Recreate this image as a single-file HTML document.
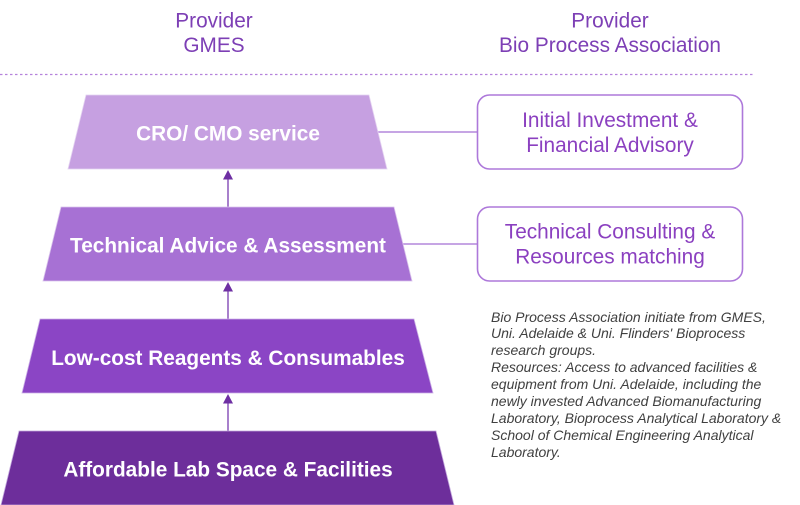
<!DOCTYPE html>
<html>
<head>
<meta charset="utf-8">
<style>
html,body{margin:0;padding:0;background:#fff;}
body{width:800px;height:505px;overflow:hidden;position:relative;}
svg{position:absolute;left:0;top:0;}
.note{position:absolute;left:491px;top:308.5px;width:310px;font-family:"Liberation Sans",Arial,sans-serif;font-style:italic;font-size:14px;line-height:16.9px;color:#404040;white-space:nowrap;}
</style>
</head>
<body>
<svg width="800" height="505" viewBox="0 0 800 505" xmlns="http://www.w3.org/2000/svg">
  <g font-family="Liberation Sans, Arial, sans-serif" font-size="20.8" fill="#7d3fb5" text-anchor="middle">
    <text x="214" y="27.5">Provider</text>
    <text x="214" y="52">GMES</text>
    <text x="610" y="27.5">Provider</text>
    <text x="610" y="52">Bio Process Association</text>
  </g>
  <line x1="0" y1="74.5" x2="755" y2="74.5" stroke="#b582dc" stroke-width="1.2" stroke-dasharray="2.5,2.5"/>

  <!-- connectors -->
  <line x1="378" y1="132" x2="477" y2="132" stroke="#a56fd3" stroke-width="1.3"/>
  <line x1="402" y1="244" x2="477" y2="244" stroke="#a56fd3" stroke-width="1.3"/>

  <!-- arrows -->
  <g stroke="#7a3cb0" stroke-width="1.3" fill="#6e2fa3">
    <line x1="228" y1="178" x2="228" y2="207"/>
    <line x1="228" y1="290" x2="228" y2="319"/>
    <line x1="228" y1="402" x2="228" y2="431"/>
  </g>
  <g fill="#6e2fa3">
    <polygon points="228,170 223,179.5 233,179.5"/>
    <polygon points="228,282 223,291.5 233,291.5"/>
    <polygon points="228,394 223,403.5 233,403.5"/>
  </g>

  <!-- trapezoids -->
  <polygon points="86,95 369,95 387,169 68,169" fill="#c6a0e1" stroke="#e4d3f1" stroke-width="0.8"/>
  <polygon points="61,207 394,207 412,281 43,281" fill="#a771d4" stroke="#d9c3ec" stroke-width="0.8"/>
  <polygon points="40,319 414,319 433,393 22,393" fill="#8b45c5" stroke="#cbb0e6" stroke-width="0.8"/>
  <polygon points="19,431 436,431 454,505 1,505" fill="#6d2e9b" stroke="#c2a6dc" stroke-width="0.8"/>

  <g font-family="Liberation Sans, Arial, sans-serif" font-size="20.8" font-weight="bold" fill="#ffffff" text-anchor="middle">
    <text x="228" y="140.5">CRO/ CMO service</text>
    <text x="228" y="252.3">Technical Advice &amp; Assessment</text>
    <text x="228" y="364.8">Low-cost Reagents &amp; Consumables</text>
    <text x="228" y="476.7">Affordable Lab Space &amp; Facilities</text>
  </g>

  <!-- right boxes -->
  <rect x="477.5" y="95" width="265" height="74" rx="12" ry="12" fill="#ffffff" stroke="#ad78da" stroke-width="1.6"/>
  <rect x="477.5" y="207" width="265" height="74" rx="12" ry="12" fill="#ffffff" stroke="#ad78da" stroke-width="1.6"/>
  <g font-family="Liberation Sans, Arial, sans-serif" font-size="20.8" fill="#8b40c0" text-anchor="middle">
    <text x="610" y="127">Initial Investment &amp;</text>
    <text x="610" y="152">Financial Advisory</text>
    <text x="610" y="238.5">Technical Consulting &amp;</text>
    <text x="610" y="263.5">Resources matching</text>
  </g>
</svg>
<div class="note">Bio Process Association initiate from GMES,<br>Uni. Adelaide &amp; Uni. Flinders' Bioprocess<br>research groups.<br>Resources: Access to advanced facilities &amp;<br>equipment from Uni. Adelaide, including the<br>newly invested Advanced Biomanufacturing<br>Laboratory, Bioprocess Analytical Laboratory &amp;<br>School of Chemical Engineering Analytical<br>Laboratory.</div>
</body>
</html>
